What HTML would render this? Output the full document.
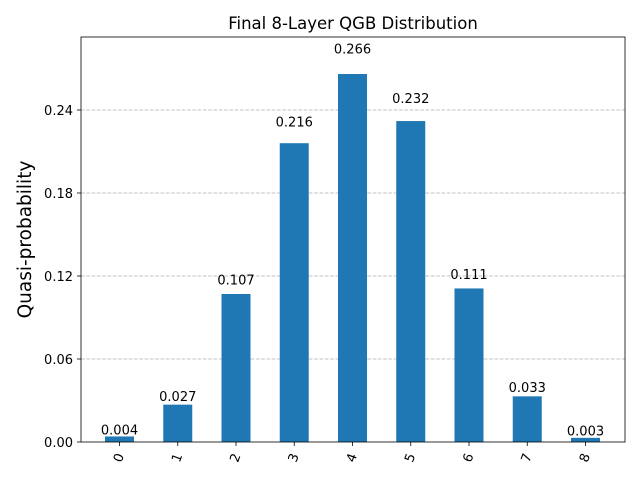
<!DOCTYPE html>
<html><head><meta charset="utf-8"><style>body{margin:0;background:#fff}svg{display:block;font-family:"DejaVu Sans","Liberation Sans",sans-serif}</style></head>
<body>
<svg id="chart" width="640" height="480" xmlns="http://www.w3.org/2000/svg"></svg>
<script>
const categories = ["0","1","2","3","4","5","6","7","8"];
const values = [0.004,0.027,0.107,0.216,0.266,0.232,0.111,0.033,0.003];
const valueLabels = ["0.004","0.027","0.107","0.216","0.266","0.232","0.111","0.033","0.003"];
const yTicks = [0,0.06,0.12,0.18,0.24];
const yTickLabels = ["0.00","0.06","0.12","0.18","0.24"];

const NS="http://www.w3.org/2000/svg";
const svg=document.getElementById('chart');
const L=81,R=625,T=37,B=442;
const yScale=v=>B-v*(332/0.24);
const xScale=i=>119.5+i*58.25;
function mk(tag,attrs,text){const e=document.createElementNS(NS,tag);for(const k in attrs)e.setAttribute(k,attrs[k]);if(text!==undefined)e.textContent=text;svg.appendChild(e);return e;}

yTicks.forEach((t,i)=>{
  const y=yScale(t);
  if(t>0){const g=mk('line',{x1:L,x2:R,y1:y,y2:y,stroke:'#b0b0b0','stroke-dasharray':'3.7,1.6','stroke-width':0.8});
  
  }
  const tk=mk('line',{x1:L-4,x2:L,y1:y,y2:y,stroke:'#000','stroke-width':0.8});
  
  
  const tl=mk('text',{x:L-8,y:y+5,'text-anchor':'end','font-size':13},yTickLabels[i]);
  
  
});

values.forEach((v,i)=>{
  const x=xScale(i),y=yScale(v);
  const b=mk('rect',{x:x-14.5,y:y,width:29,height:B-y,fill:'#1f77b4'});
  
  
  const ly=yScale(v*1.05+0.005);
  const vl=mk('text',{x:x,y:ly+5,'text-anchor':'middle','font-size':13},valueLabels[i]);
  
  
  const tk=mk('line',{x1:x,x2:x,y1:B,y2:B+4,stroke:'#000','stroke-width':0.8});
  
  
  const tl=mk('text',{x:x,y:B+16,'text-anchor':'middle','font-size':13,transform:`rotate(-70 ${x} ${B+16})`,'dominant-baseline':'central'},categories[i]);
  
  
});

const fr=mk('rect',{x:L,y:T,width:R-L,height:B-T,fill:'none',stroke:'#000','stroke-width':0.8});


const ti=mk('text',{x:(L+R)/2,y:29,'text-anchor':'middle','font-size':16.5},'Final 8-Layer QGB Distribution');


const yt=mk('text',{x:31,y:(T+B)/2,'text-anchor':'middle','font-size':18.5,transform:`rotate(-90 31 ${(T+B)/2})`},'Quasi-probability');


</script>
</body></html>
